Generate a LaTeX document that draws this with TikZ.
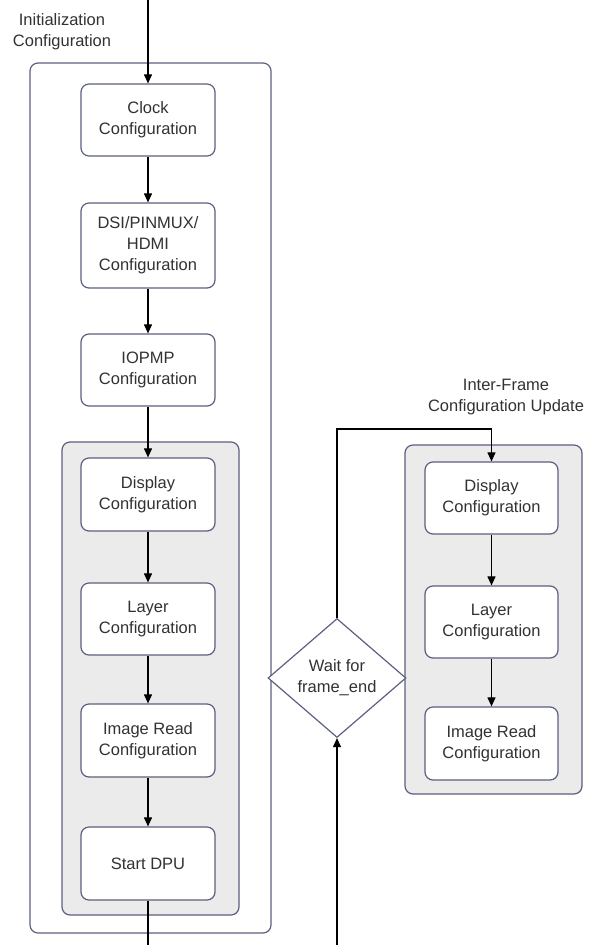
\documentclass[tikz,border=0pt]{standalone}
\usepackage{fontspec}
\setmainfont{Liberation Sans}
\usetikzlibrary{arrows.meta,shapes.geometric}
\definecolor{boxline}{RGB}{92,96,128}
\definecolor{panelfill}{RGB}{235,235,235}
\definecolor{txt}{RGB}{50,50,50}
\tikzset{
  cfg/.style={draw=boxline,line width=1.2pt,rounded corners=8pt,fill=white,
    minimum width=134pt,minimum height=72pt,align=center,text=txt,
    font=\fontsize{16.5}{21}\selectfont,inner sep=0pt},
  waitbox/.style={draw=boxline,line width=1.2pt,shape=diamond,fill=white,
    minimum width=138pt,minimum height=119pt,align=center,text=txt,
    font=\fontsize{16.5}{21}\selectfont,inner sep=0pt},
  panel/.style={draw=boxline,line width=1.2pt,rounded corners=8pt},
  caption/.style={align=center,text=txt,font=\fontsize{16.5}{21}\selectfont},
  flow/.style={line width=1.1pt,-{Triangle[length=9pt,width=8pt]}}
}
\begin{document}
\begin{tikzpicture}[x=1pt,y=-1pt]
      \useasboundingbox (0,0) rectangle (589,945);
      % containers
      \draw[panel] (30,63) rectangle (271,933);
      \draw[panel,fill=panelfill] (62,442) rectangle (239,915);
      \draw[panel,fill=panelfill] (405,445) rectangle (582,794);
      \node[caption] (initlbl) at (62,32) {Initialization\\Configuration};
      \node[caption] (updlbl) at (506,397) {Inter-Frame\\Configuration Update};
      % initialization steps
      \node[cfg] (clock) at (148,120) {Clock\\Configuration};
      \node[cfg,minimum height=85pt] (dsi) at (148,245.5) {DSI/PINMUX/\\HDMI\\Configuration};
      \node[cfg] (iopmp) at (148,370) {IOPMP\\Configuration};
      \node[cfg,minimum height=73pt] (displ) at (148,494.5) {Display\\Configuration};
      \node[cfg] (layerl) at (148,619) {Layer\\Configuration};
      \node[cfg,minimum height=73pt] (imgl) at (148,740.5) {Image Read\\Configuration};
      \node[cfg,minimum height=73pt] (start) at (148,863.5) {Start DPU};
      % frame loop
      \node[waitbox] (wait) at (337,678) {Wait for\\frame\_end};
      \node[cfg,minimum width=133pt] (dispr) at (491.5,498) {Display\\Configuration};
      \node[cfg,minimum width=133pt] (layerr) at (491.5,622) {Layer\\Configuration};
      \node[cfg,minimum width=133pt,minimum height=73pt] (imgr) at (491.5,743.5) {Image Read\\Configuration};
      \coordinate (entry) at (148,0);
      \coordinate (exit) at (148,945);
      \coordinate (back) at (337,945);
      \coordinate (looptop) at (491.5,429);
      \begin{scope}[flow]
        \draw (entry) -- (clock);
        \draw (clock) -- (dsi);
        \draw (dsi) -- (iopmp);
        \draw (iopmp) -- (displ);
        \draw (displ) -- (layerl);
        \draw (layerl) -- (imgl);
        \draw (imgl) -- (start);
        \draw[-] (start) -- (exit);
        \draw (back) -- (wait.south);
        \draw (wait.north) |- (looptop) -- (dispr.north);
        \draw (dispr) -- (layerr);
        \draw (layerr) -- (imgr);
      \end{scope}
    \end{tikzpicture}
\end{document}
